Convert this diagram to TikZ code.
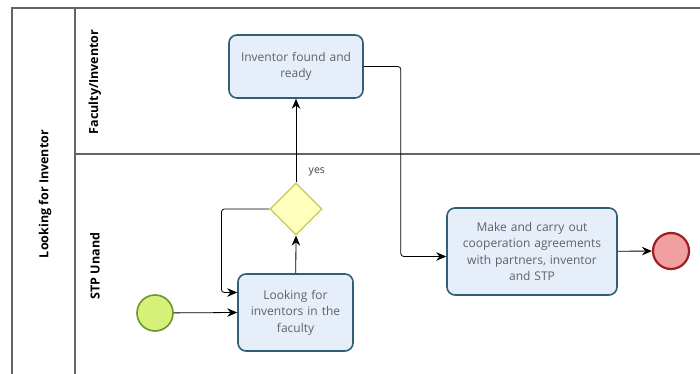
\documentclass[tikz,border=0pt]{standalone}
\usepackage{fontspec}
\setmainfont{Open Sans}
\usetikzlibrary{calc, positioning, shapes.geometric, arrows.meta}

\definecolor{taskfill}{RGB}{230,238,250}
\definecolor{taskline}{RGB}{50,95,115}
\definecolor{gwfill}{RGB}{255,255,190}
\definecolor{gwline}{RGB}{200,200,90}
\definecolor{startfill}{RGB}{215,240,120}
\definecolor{startline}{RGB}{105,150,45}
\definecolor{endfill}{RGB}{240,160,160}
\definecolor{endline}{RGB}{160,30,35}
\definecolor{laneline}{RGB}{100,100,100}

\tikzset{
  task/.style={draw=taskline, fill=taskfill, line width=1.6pt, rounded corners=8pt,
    align=center, text=black!62, font=\fontsize{12}{16.5}\selectfont, inner sep=2pt},
  gateway/.style={draw=gwline, fill=gwfill, line width=1.2pt, diamond, aspect=1,
    minimum width=52pt, minimum height=52pt, inner sep=0pt},
  startev/.style={circle, draw=startline, fill=startfill, line width=1.6pt, minimum size=36pt},
  endev/.style={circle, draw=endline, fill=endfill, line width=2.2pt, minimum size=36pt},
  lanetitle/.style={rotate=90, font=\bfseries\fontsize{12.5}{14}\selectfont},
  flow/.style={->, thick, rounded corners=3pt},
}

\begin{document}
\begin{tikzpicture}[>={Stealth[length=10pt, width=8.5pt]}, x=1pt, y=-1pt]
  \useasboundingbox (0,0) rectangle (700,374);
  % pool and lanes
  \draw[laneline, line width=1.2pt] (700,8) -- (12,8) -- (12,374);
  \draw[laneline, line width=1.2pt] (75,8) -- (75,374);
  \draw[laneline, line width=1.2pt] (75,154) -- (700,154);
  \node[lanetitle] (pool) at (45,194) {Looking for Inventor};
  \node[lanetitle] (faculty) at (95,82) {Faculty/Inventor};
  \node[lanetitle] (stp) at (95,266) {STP Unand};

  % flow nodes
  \node[startev] (start) at (155,313) {};
  \node[task, minimum width=115pt, minimum height=77pt, text width=108pt] (look) at (295.5,312.5)
    {Looking for\\inventors in the\\faculty};
  \node[gateway] (gw) at (296,209) {};
  \node[task, minimum width=134pt, minimum height=63pt, text width=128pt] (inv) at (296,66.5)
    {Inventor found and\\ready};
  \node[task, minimum width=170pt, minimum height=87pt, text width=164pt] (make) at (532,251.5)
    {Make and carry out\\cooperation agreements\\with partners, inventor\\and STP};
  \node[endev] (end) at (671,251) {};

  % sequence flows
  \draw[flow] (start) -- (look.west);
  \draw[flow] (look) -- (gw.south);
  \draw[flow] (gw.west) -- ++(-48,0) |- ([yshift=20pt]look.west);
  \draw[flow] (gw.north) -- node[pos=0.12, right=9pt, text=black!75, font=\fontsize{10.5}{12}\selectfont] {yes} (inv.south);
  \draw[flow] (inv.east) -- ++(37,0) |- ([yshift=-5pt]make.west);
  \draw[flow] (make) -- (end);
\end{tikzpicture}
\end{document}
